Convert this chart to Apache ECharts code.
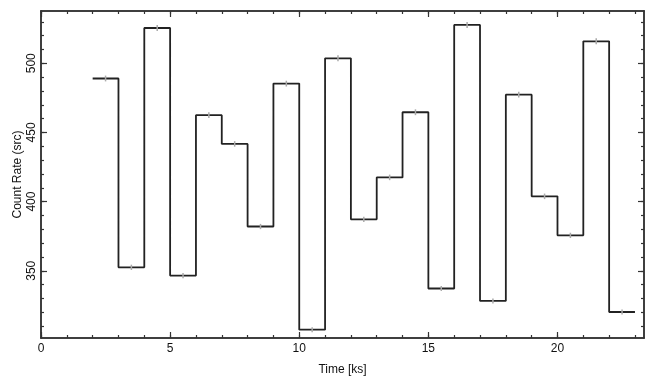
<!DOCTYPE html>
<html>
<head>
<meta charset="utf-8">
<script src="https://cdn.jsdelivr.net/npm/echarts@6/dist/echarts.min.js"></script>
<style>
  html, body { margin: 0; padding: 0; background: #fff; }
  #main { width: 655px; height: 385px; }
</style>
</head>
<body>
<div id="main"></div>
<script>
// light curve: 1 ks bins from 2 to 23 ks
const binEdges = [2, 3, 4, 5, 6, 7, 8, 9, 10, 11, 12, 13, 14, 15, 16, 17, 18, 19, 20, 21, 22, 23];
const rates = [489, 352.5, 525.5, 346.5, 462.5, 441.7, 382, 485.3, 307.4, 503.6, 387.2,
  417.5, 464.6, 337.2, 527.7, 328.2, 477.3, 403.8, 375.6, 515.9, 320.2];
const rateErr = [2.1, 1.9, 2.2, 1.9, 2.1, 2.0, 1.9, 2.1, 1.8, 2.2, 1.9,
  2.0, 2.1, 1.8, 2.2, 1.8, 2.1, 2.0, 1.9, 2.2, 1.8];
const xTickVals = [0, 5, 10, 15, 20];
const yTickVals = [350, 400, 450, 500];

const X_MIN = 0, X_MAX = 23.35;
const Y_MIN = 301.4, Y_MAX = 537.8;
const AXIS_COLOR = '#333';
const FONT = 'Liberation Sans, Arial, Helvetica, sans-serif';

const xMinor = [];
for (let i = 0; i <= 23; i++) xMinor.push(i);
const yMinor = [];
for (let v = 310; v <= 530; v += 10) yMinor.push(v);

// step line through the bin edges
const stepData = [];
for (let i = 0; i < rates.length; i++) stepData.push([binEdges[i], rates[i]]);
stepData.push([binEdges[binEdges.length - 1], rates[rates.length - 1]]);

const errData = rates.map((v, i) => [(binEdges[i] + binEdges[i + 1]) / 2, v - rateErr[i], v + rateErr[i]]);

function frameAxis(pos, kind, ticks, len, labels, extra) {
  const isX = kind === 'x';
  return {
    type: 'value',
    position: pos,
    min: isX ? X_MIN : Y_MIN,
    max: isX ? X_MAX : Y_MAX,
    offset: 0,
    splitLine: { show: false },
    axisLine: { show: true, onZero: false, lineStyle: { color: AXIS_COLOR, width: 1.5 } },
    axisTick: { show: true, inside: true, length: len, customValues: ticks,
      lineStyle: { color: AXIS_COLOR, width: 1.2 } },
    axisLabel: labels ? Object.assign({ customValues: labels, color: '#111',
      fontSize: 12, fontFamily: FONT }, extra || {}) : { show: false }
  };
}

const xAxes = [
  frameAxis('bottom', 'x', xMinor, 3, xTickVals, { margin: 5 }),
  frameAxis('bottom', 'x', xTickVals, 6, null),
  frameAxis('top', 'x', xMinor, 3, null),
  frameAxis('top', 'x', xTickVals, 6, null)
];
xAxes[0].name = 'Time [ks]';
xAxes[0].nameLocation = 'middle';
xAxes[0].nameGap = 26;
xAxes[0].nameMoveOverlap = false;
xAxes[0].nameTextStyle = { fontSize: 12, fontFamily: FONT, color: '#111' };

const yAxes = [
  frameAxis('left', 'y', yMinor, 3, yTickVals, { rotate: 90, margin: 3 }),
  frameAxis('left', 'y', yTickVals, 6, null),
  frameAxis('right', 'y', yMinor, 3, null),
  frameAxis('right', 'y', yTickVals, 6, null)
];
yAxes[0].name = 'Count Rate (src)';
yAxes[0].nameLocation = 'middle';
yAxes[0].nameGap = 17;
yAxes[0].nameMoveOverlap = false;
yAxes[0].nameTextStyle = { fontSize: 12, fontFamily: FONT, color: '#111' };

const chart = echarts.init(document.getElementById('main'), null, { renderer: 'canvas' });
chart.setOption({
  animation: false,
  backgroundColor: '#fff',
  grid: { left: 41, right: 11, top: 11, bottom: 47, containLabel: false, outerBoundsMode: 'none' },
  xAxis: xAxes,
  yAxis: yAxes,
  series: [
    {
      type: 'line',
      step: 'end',
      xAxisIndex: 0,
      yAxisIndex: 0,
      data: stepData,
      symbol: 'none',
      lineStyle: { color: '#222', width: 1.8 },
      z: 3
    },
    {
      type: 'custom',
      xAxisIndex: 0,
      yAxisIndex: 0,
      data: errData,
      z: 4,
      renderItem: function (params, api) {
        const lo = api.coord([api.value(0), api.value(1)]);
        const hi = api.coord([api.value(0), api.value(2)]);
        return {
          type: 'line',
          shape: { x1: lo[0], y1: lo[1], x2: hi[0], y2: hi[1] },
          style: { stroke: '#aaa', lineWidth: 1.5 }
        };
      }
    }
  ]
});
</script>
</body>
</html>
